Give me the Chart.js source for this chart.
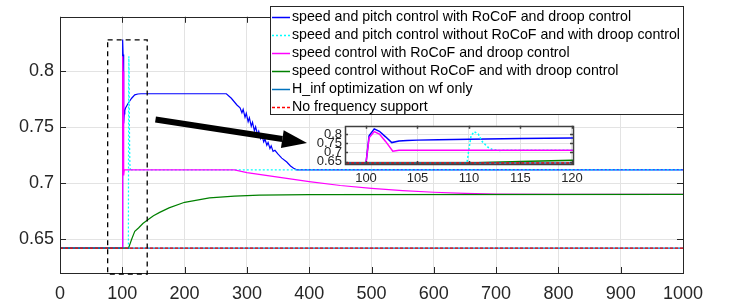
<!DOCTYPE html>
<html>
<head>
<meta charset="utf-8">
<script src="https://cdn.jsdelivr.net/npm/chart.js@4.4.0/dist/chart.umd.min.js"></script>
<style>
  html, body { margin: 0; padding: 0; background: #fff; }
  #wrap { position: relative; width: 731px; height: 301px; overflow: hidden; }
  #main { position: absolute; left: 0; top: 0; }
  #inset { position: absolute; left: 300px; top: 115px; }
</style>
</head>
<body>
<div id="wrap">
  <canvas id="main" width="731" height="301"></canvas>
  <canvas id="inset" width="290" height="75"></canvas>
</div>
<script>
// values (time on x, response on y)
const seriesLabels = [
  "speed and pitch control with RoCoF and droop control",
  "speed and pitch control without RoCoF and with droop control",
  "speed control with RoCoF and droop control",
  "speed control without RoCoF and with droop control",
  "H_inf optimization on wf only",
  "No frequency support"
];

const pitchRocofT = [0, 100, 100.3, 100.8, 101.3, 101.9, 102.5, 103.2, 104, 105, 107, 110, 115, 120, 125, 130, 267, 275, 284, 289,
  292, 294, 297, 299, 302, 304, 307, 309, 312, 314, 317, 319, 322, 324, 327, 329, 332, 334, 337, 339, 342, 345,
  350, 356, 364, 370, 375, 380, 1000];
const pitchRocofY = [0.642, 0.642, 0.79, 0.8285, 0.815, 0.785, 0.7535, 0.762, 0.765, 0.767, 0.769, 0.772, 0.776, 0.779, 0.7798, 0.78, 0.78, 0.776, 0.770, 0.7675,
  0.763, 0.766, 0.759, 0.7625, 0.755, 0.7585, 0.751, 0.7545, 0.747, 0.7505, 0.7435, 0.7465, 0.740, 0.743, 0.737, 0.7395, 0.734, 0.7365, 0.731, 0.7335, 0.7285, 0.7295,
  0.726, 0.7225, 0.719, 0.7155, 0.7135, 0.712, 0.712];

const pitchNoRocofT = [0, 109.8, 110, 110.2, 110.5, 110.9, 111.3, 111.8, 112.2, 113, 114, 1000];
const pitchNoRocofY = [0.642, 0.642, 0.72, 0.79, 0.8135, 0.80, 0.7585, 0.73, 0.717, 0.711, 0.712, 0.712];

const speedRocofT = [0, 100, 100.3, 100.8, 101.3, 101.9, 102.6, 103.2, 280, 300, 350, 400, 450, 500, 550, 600, 650, 700, 800, 1000];
const speedRocofY = [0.642, 0.642, 0.78, 0.8135, 0.80, 0.76, 0.707, 0.712, 0.712, 0.7095, 0.7055, 0.7015, 0.698, 0.6955, 0.6935, 0.692, 0.691, 0.6903, 0.690, 0.690];

const speedNoRocofT = [0, 110, 115, 120, 126, 133, 140, 150, 160, 175, 200, 240, 280, 320, 400, 1000];
const speedNoRocofY = [0.642, 0.642, 0.650, 0.657, 0.660, 0.664, 0.667, 0.671, 0.674, 0.678, 0.683, 0.687, 0.6885, 0.6894, 0.6898, 0.690];

const hinfT = [0, 1000];
const hinfY = [0.642, 0.642];

const noSupportT = [0, 1000];
const noSupportY = [0.642, 0.642];

const xTicks = [0, 100, 200, 300, 400, 500, 600, 700, 800, 900, 1000];
const yTicks = [0.65, 0.7, 0.75, 0.8];
const insetXTicks = [100, 105, 110, 115, 120];
const insetYTicks = [0.65, 0.7, 0.75, 0.8];

const FONT = "'Liberation Sans', Arial, Helvetica, sans-serif";
const AXIS_COLOR = "#262626";

const zip = (xs, ys) => xs.map((x, i) => ({ x, y: ys[i] }));

function makeDatasets(width) {
  const styles = [
    { c: "#0000ff", dash: [] },
    { c: "#00ffff", dash: [2, 2] },
    { c: "#ff00ff", dash: [] },
    { c: "#008000", dash: [] },
    { c: "#0072bd", dash: [] },
    { c: "#ff0000", dash: [3, 2] }
  ];
  const data = [
    zip(pitchRocofT, pitchRocofY),
    zip(pitchNoRocofT, pitchNoRocofY),
    zip(speedRocofT, speedRocofY),
    zip(speedNoRocofT, speedNoRocofY),
    zip(hinfT, hinfY),
    zip(noSupportT, noSupportY)
  ];
  return data.map((d, i) => ({
    label: seriesLabels[i],
    data: d,
    borderColor: styles[i].c,
    borderDash: styles[i].dash,
    borderWidth: width,
    pointRadius: 0,
    tension: 0,
    fill: false,
    order: data.length - i   // later series drawn on top, like the original plot
  }));
}

// box around the axes with inward tick marks
const framePlugin = {
  id: "frame",
  afterDraw(chart, args, o) {
    const { ctx, chartArea: a, scales } = chart;
    ctx.save();
    ctx.strokeStyle = o.color;
    ctx.lineWidth = o.width;
    ctx.beginPath();
    scales.x.ticks.forEach(t => {
      const px = Math.round(scales.x.getPixelForValue(t.value)) + 0.5;
      ctx.moveTo(px, a.bottom); ctx.lineTo(px, a.bottom - o.tick);
      ctx.moveTo(px, a.top); ctx.lineTo(px, a.top + o.tick);
    });
    scales.y.ticks.forEach(t => {
      const py = Math.round(scales.y.getPixelForValue(t.value)) + 0.5;
      ctx.moveTo(a.left, py); ctx.lineTo(a.left + o.tick, py);
      ctx.moveTo(a.right, py); ctx.lineTo(a.right - o.tick, py);
    });
    ctx.stroke();
    ctx.strokeRect(Math.round(a.left) + 0.5, Math.round(a.top) + 0.5,
      Math.round(a.right - a.left), Math.round(a.bottom - a.top));
    ctx.restore();
  }
};

// dashed zoom box and the thick arrow pointing to the inset
const markupPlugin = {
  id: "markup",
  afterDraw(chart, args, o) {
    const { ctx, scales: { x, y } } = chart;
    ctx.save();
    // zoom box
    const x1 = x.getPixelForValue(o.box.x0), x2 = x.getPixelForValue(o.box.x1);
    const y1 = y.getPixelForValue(o.box.y1), y2 = y.getPixelForValue(y.min) + 1;
    ctx.strokeStyle = "#000";
    ctx.lineWidth = 1.3;
    ctx.setLineDash([5, 4]);
    ctx.strokeRect(x1, y1, x2 - x1, y2 - y1);
    ctx.setLineDash([]);
    // arrow
    const ax = x.getPixelForValue(o.arrow.x0), ay = y.getPixelForValue(o.arrow.y0);
    const bx = x.getPixelForValue(o.arrow.x1), by = y.getPixelForValue(o.arrow.y1);
    const ang = Math.atan2(by - ay, bx - ax);
    const headLen = 25, headHalf = 9;
    const hx = bx - headLen * Math.cos(ang), hy = by - headLen * Math.sin(ang);
    ctx.strokeStyle = "#000";
    ctx.lineWidth = 6;
    ctx.beginPath(); ctx.moveTo(ax, ay); ctx.lineTo(hx, hy); ctx.stroke();
    ctx.fillStyle = "#000";
    ctx.beginPath();
    ctx.moveTo(bx, by);
    ctx.lineTo(hx + headHalf * Math.sin(ang), hy - headHalf * Math.cos(ang));
    ctx.lineTo(hx - headHalf * Math.sin(ang), hy + headHalf * Math.cos(ang));
    ctx.closePath();
    ctx.fill();
    ctx.restore();
  }
};

// boxed legend in the upper right corner
const boxLegendPlugin = {
  id: "boxLegend",
  afterDraw(chart, args, o) {
    const ctx = chart.ctx;
    ctx.save();
    ctx.fillStyle = "#fff";
    ctx.fillRect(o.x, o.y, o.w, o.h);
    ctx.strokeStyle = AXIS_COLOR;
    ctx.lineWidth = 1;
    ctx.strokeRect(o.x + 0.5, o.y + 0.5, o.w, o.h);
    ctx.font = "14.2px " + FONT;
    ctx.textBaseline = "middle";
    chart.data.datasets.forEach((ds, i) => {
      const cy = Math.round(o.y + o.first + i * o.step) + 0.5;
      ctx.strokeStyle = ds.borderColor;
      ctx.lineWidth = 1.5;
      ctx.setLineDash(ds.borderDash || []);
      ctx.beginPath(); ctx.moveTo(o.x + 2, cy); ctx.lineTo(o.x + 20, cy); ctx.stroke();
      ctx.setLineDash([]);
      ctx.fillStyle = "#000";
      ctx.fillText(ds.label, o.x + 22, cy);
    });
    ctx.restore();
  }
};

const insetBgPlugin = {
  id: "insetBg",
  beforeDraw(chart) {
    const { ctx, chartArea: a } = chart;
    ctx.save();
    ctx.fillStyle = "#fff";
    ctx.fillRect(a.left, a.top, a.right - a.left, a.bottom - a.top);
    ctx.restore();
  }
};

const fmt = v => String(+v.toFixed(3));

function axes(xr, yr, xt, yt, fontSize, xPad, yPad, yWidth, xHeight) {
  const tickFont = { family: FONT, size: fontSize };
  return {
    x: {
      type: "linear", min: xr[0], max: xr[1],
      afterBuildTicks: s => { s.ticks = xt.map(v => ({ value: v })); },
      afterFit: s => { s.height = xHeight; },
      grid: { color: "#e3e3e3", drawTicks: false },
      border: { display: false },
      ticks: { font: tickFont, color: AXIS_COLOR, padding: xPad, maxRotation: 0, autoSkip: false, callback: fmt }
    },
    y: {
      type: "linear", min: yr[0], max: yr[1],
      afterBuildTicks: s => { s.ticks = yt.map(v => ({ value: v })); },
      afterFit: s => { s.width = yWidth; },
      grid: { color: "#e3e3e3", drawTicks: false },
      border: { display: false },
      ticks: { font: tickFont, color: AXIS_COLOR, padding: yPad, autoSkip: false, callback: fmt }
    }
  };
}

new Chart(document.getElementById("main"), {
  type: "line",
  data: { datasets: makeDatasets(1.2) },
  plugins: [framePlugin, markupPlugin, boxLegendPlugin],
  options: {
    responsive: false,
    animation: false,
    devicePixelRatio: 1,
    parsing: false,
    layout: { padding: { left: 0, right: 48, top: 15, bottom: 0 } },
    scales: axes([0, 1000], [0.6198, 0.8488], xTicks, yTicks, 18, 10, 6, 60, 28),
    plugins: {
      legend: { display: false },
      tooltip: { enabled: false },
      frame: { color: AXIS_COLOR, width: 1, tick: 6 },
      markup: {
        box: { x0: 76.5, x1: 140, y1: 0.8281 },
        arrow: { x0: 153.3, y0: 0.757, x1: 396.5, y1: 0.7361 }
      },
      boxLegend: { x: 270, y: 6, w: 413, h: 108, first: 10.7, step: 18.1 }
    }
  }
});

new Chart(document.getElementById("inset"), {
  type: "line",
  data: { datasets: makeDatasets(1.5) },
  plugins: [insetBgPlugin, framePlugin],
  options: {
    responsive: false,
    animation: false,
    devicePixelRatio: 1,
    parsing: false,
    layout: { padding: { left: 0, right: 17, top: 8, bottom: 0 } },
    scales: axes([97.96, 120.1], [0.637, 0.845], insetXTicks, insetYTicks, 13, 7, 3, 45, 26),
    plugins: {
      legend: { display: false },
      tooltip: { enabled: false },
      frame: { color: "#404040", width: 1.5, tick: 3 }
    }
  }
});
</script>
</body>
</html>
